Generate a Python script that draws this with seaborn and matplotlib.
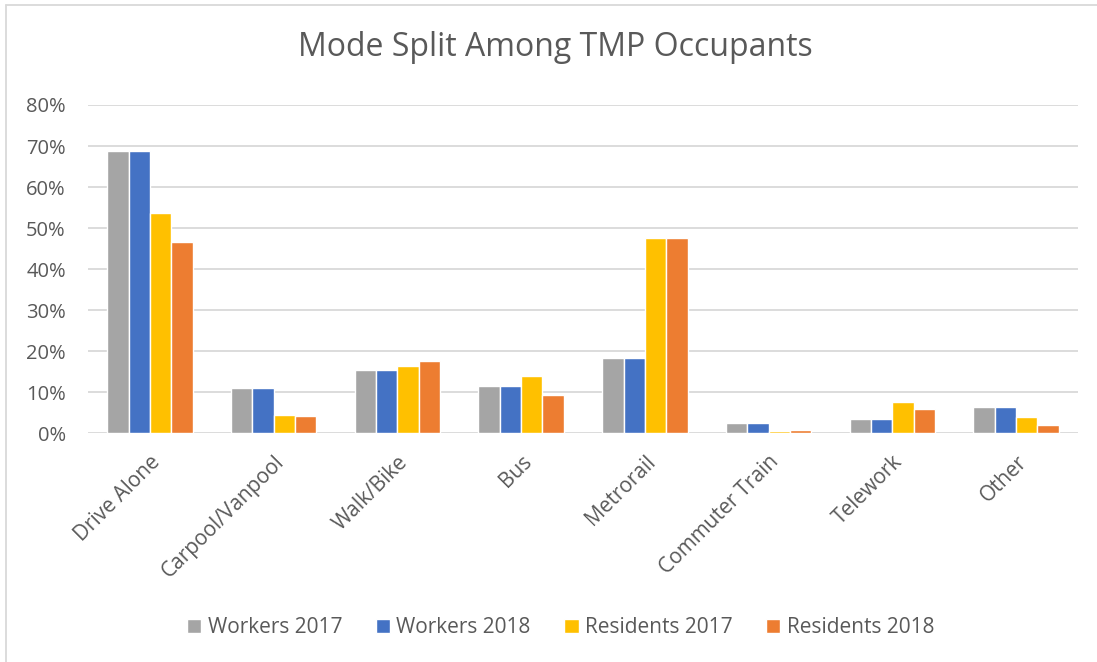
import pandas as pd
import numpy as np
import matplotlib.pyplot as plt
import seaborn as sns
from matplotlib.lines import Line2D
from matplotlib.ticker import PercentFormatter

# values (percent)
modes = ['Drive Alone', 'Carpool/Vanpool', 'Walk/Bike', 'Bus', 'Metrorail',
         'Commuter Train', 'Telework', 'Other']
workers_2017 = [68.7, 11.0, 15.3, 11.6, 18.4, 2.5, 3.4, 6.3]
workers_2018 = [68.7, 11.0, 15.3, 11.6, 18.4, 2.5, 3.4, 6.3]
residents_2017 = [53.8, 4.5, 16.5, 13.9, 47.7, 0.6, 7.6, 3.9]
residents_2018 = [46.5, 4.1, 17.6, 9.3, 47.5, 0.8, 5.8, 2.0]
series = ['Workers 2017', 'Workers 2018', 'Residents 2017', 'Residents 2018']
colors = ['#A5A5A5', '#4472C4', '#FFC000', '#ED7D31']

df = pd.DataFrame({
    'mode': modes * 4,
    'series': np.repeat(series, len(modes)),
    'share': workers_2017 + workers_2018 + residents_2017 + residents_2018,
})

sns.set_theme(style='white')
plt.rcParams['font.family'] = ['Open Sans', 'DejaVu Sans']
txt = '#595959'

fig = plt.figure(figsize=(10.97, 6.62), dpi=100)
ax = fig.add_axes([0.0802, 0.3455, 0.9025, 0.4959])

sns.barplot(data=df, x='mode', y='share', hue='series', order=modes,
            hue_order=series, palette=colors, saturation=1, width=0.69,
            edgecolor='white', linewidth=1, ax=ax, legend=True)

ax.set_ylim(0, 80)
ax.set_xlim(-0.5, len(modes) - 0.5)
ax.set_yticks(range(0, 81, 10))
ax.yaxis.set_major_formatter(PercentFormatter(decimals=0))
ax.grid(axis='y', color='#D9D9D9', linewidth=1.3)
ax.set_axisbelow(True)
for s in ax.spines.values():
    s.set_visible(False)
ax.set_xlabel('')
ax.set_ylabel('')
ax.tick_params(axis='y', length=0, pad=16, labelsize=14.5, labelcolor=txt)
ax.tick_params(axis='x', length=0, pad=13, labelsize=15, labelcolor=txt)
plt.setp(ax.get_xticklabels(), rotation=45, ha='right', rotation_mode='anchor')

fig.text(0.506, 0.915, 'Mode Split Among TMP Occupants', ha='center',
         va='baseline', fontsize=23, color=txt)

ax.legend(loc='center', bbox_to_anchor=(0.511, 0.0514),
          bbox_transform=fig.transFigure, ncol=4, frameon=False,
          fontsize=15, labelcolor=txt, handlelength=0.7, handleheight=0.7,
          handletextpad=0.3, columnspacing=1.6)

# chart frame (top and left edges visible in the reference)
fig.add_artist(Line2D([6 / 1097, 6 / 1097], [0, 1 - 5 / 662],
                      transform=fig.transFigure, color='#D9D9D9', lw=1.3))
fig.add_artist(Line2D([6 / 1097, 1], [1 - 5 / 662, 1 - 5 / 662],
                      transform=fig.transFigure, color='#D9D9D9', lw=1.3))

fig.savefig('out.png', dpi=100)
